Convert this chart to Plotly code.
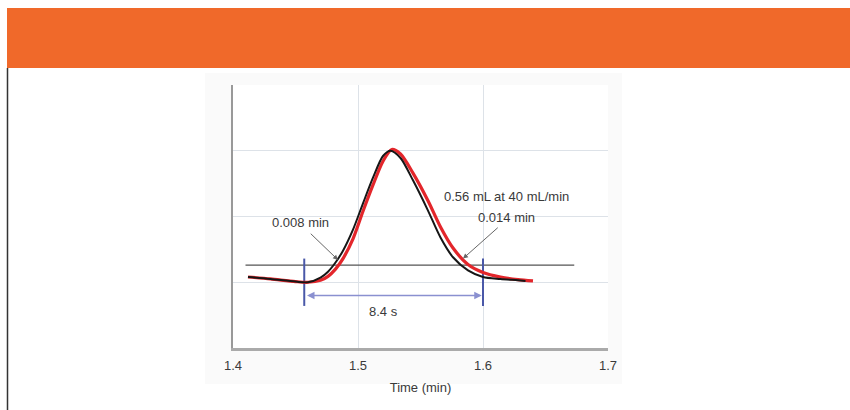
import plotly.graph_objects as go

# ---- data ----
time_black = [1.412, 1.43, 1.45, 1.46, 1.47, 1.476, 1.482, 1.488, 1.496, 1.504, 1.512, 1.520, 1.526,
              1.534, 1.544, 1.556, 1.566, 1.576, 1.588, 1.600, 1.614, 1.628, 1.634]
signal_black = [1.08, 1.05, 1.01, 1.00, 1.07, 1.16, 1.30, 1.48, 1.80, 2.20, 2.59, 2.92, 3.00,
                2.89, 2.55, 2.09, 1.68, 1.38, 1.18, 1.08, 1.05, 1.03, 1.02]

time_red = [1.412, 1.43, 1.45, 1.46, 1.47, 1.476, 1.482, 1.488, 1.496, 1.504, 1.512, 1.520, 1.527,
            1.534, 1.544, 1.556, 1.566, 1.576, 1.588, 1.600, 1.614, 1.628, 1.640]
signal_red = [1.08, 1.05, 1.01, 1.00, 1.03, 1.09, 1.20, 1.36, 1.66, 2.08, 2.48, 2.84, 3.02,
              2.95, 2.66, 2.24, 1.84, 1.52, 1.27, 1.15, 1.08, 1.04, 1.02]

threshold_x = [1.41, 1.673]
threshold_y = [1.26, 1.26]

marker_times = [1.457, 1.600]
marker_span = [0.64, 1.36]
span_level = 0.80

tick_vals = [1.4, 1.5, 1.6, 1.7]
tick_text = ["1.4", "1.5", "1.6", "1.7"]

W, H = 850, 410
def px(x):
    return x / W
def py(y):
    return 1 - y / H

FONT = "Liberation Sans, Arial, sans-serif"
TXT = "#3a3a3a"

fig = go.Figure()

fig.add_trace(go.Scatter(x=threshold_x, y=threshold_y, mode="lines",
                         line=dict(color="#555555", width=1.2), hoverinfo="skip"))
for t in marker_times:
    fig.add_trace(go.Scatter(x=[t, t], y=marker_span, mode="lines",
                             line=dict(color="#4a58a8", width=2), hoverinfo="skip"))
fig.add_trace(go.Scatter(x=time_red, y=signal_red, mode="lines",
                         line=dict(color="#e3262b", width=3.2, shape="spline", smoothing=0.8)))
fig.add_trace(go.Scatter(x=time_black, y=signal_black, mode="lines",
                         line=dict(color="#161616", width=2, shape="spline", smoothing=0.8)))

shapes = [
    dict(type="rect", xref="paper", yref="paper", x0=px(7), x1=1.0, y0=py(68), y1=py(8),
         fillcolor="#f0692a", line=dict(width=0), layer="below"),
    dict(type="line", xref="paper", yref="paper", x0=px(7.5), x1=px(7.5), y0=0, y1=py(68),
         line=dict(color="#333333", width=1.5)),
    dict(type="rect", xref="paper", yref="paper", x0=px(205), x1=px(622), y0=py(384), y1=py(73),
         fillcolor="#fafafa", line=dict(width=0), layer="below"),
    dict(type="rect", xref="paper", yref="paper", x0=px(233), x1=px(608), y0=py(348), y1=py(85),
         fillcolor="#ffffff", line=dict(width=0), layer="below"),
]

annotations = [
    dict(x=1.484, y=1.34, ax=1.461, ay=1.76, xref="x", yref="y", axref="x", ayref="y",
         showarrow=True, arrowhead=2, arrowsize=1, arrowwidth=1, arrowcolor="#666666", text=""),
    dict(x=1.454, y=1.91, xref="x", yref="y", text="0.008 min", showarrow=False,
         font=dict(size=13, color=TXT, family=FONT)),
    dict(x=1.584, y=1.36, ax=1.613, ay=1.85, xref="x", yref="y", axref="x", ayref="y",
         showarrow=True, arrowhead=2, arrowsize=1, arrowwidth=1, arrowcolor="#666666", text=""),
    dict(x=1.619, y=2.30, xref="x", yref="y", text="0.56 mL at 40 mL/min", showarrow=False,
         font=dict(size=13, color=TXT, family=FONT)),
    dict(x=1.619, y=1.98, xref="x", yref="y", text="0.014 min", showarrow=False,
         font=dict(size=13, color=TXT, family=FONT)),
    dict(x=marker_times[1] - 0.001, y=span_level, ax=marker_times[0] + 0.001, ay=span_level,
         xref="x", yref="y", axref="x", ayref="y", showarrow=True, arrowside="end+start",
         arrowhead=2, arrowsize=1, arrowwidth=1.5, arrowcolor="#8a90d0", text=""),
    dict(x=1.52, y=0.56, xref="x", yref="y", text="8.4 s", showarrow=False,
         font=dict(size=13, color=TXT, family=FONT)),
]

fig.update_layout(
    width=W, height=H, margin=dict(l=0, r=0, t=0, b=0, pad=0, autoexpand=False), autosize=False,
    paper_bgcolor="#ffffff", plot_bgcolor="rgba(0,0,0,0)",
    showlegend=False, shapes=shapes, annotations=annotations,
    font=dict(family=FONT, size=13, color=TXT),
    xaxis=dict(domain=[px(233), px(608)], range=[1.4, 1.7], tickvals=tick_vals, ticktext=tick_text,
               automargin=False,
               showgrid=True, gridcolor="#dde2e8", gridwidth=1, zeroline=False,
               showline=True, linecolor="#aaaaaa", linewidth=3, ticks="", ticklabelstandoff=3,
               tickfont=dict(size=13, color=TXT),
               title=dict(text="Time (min)", font=dict(size=13, color=TXT), standoff=12)),
    yaxis=dict(domain=[py(348), py(85)], range=[0, 4], tickvals=[1, 2, 3, 4], showticklabels=False,
               automargin=False,
               showgrid=True, gridcolor="#dde2e8", gridwidth=1, zeroline=False,
               showline=True, linecolor="#999999", linewidth=2, ticks=""),
)

fig.write_html("out.html", config={"responsive": False},
               post_script="document.body.style.margin='0';document.body.style.overflow='hidden';")
